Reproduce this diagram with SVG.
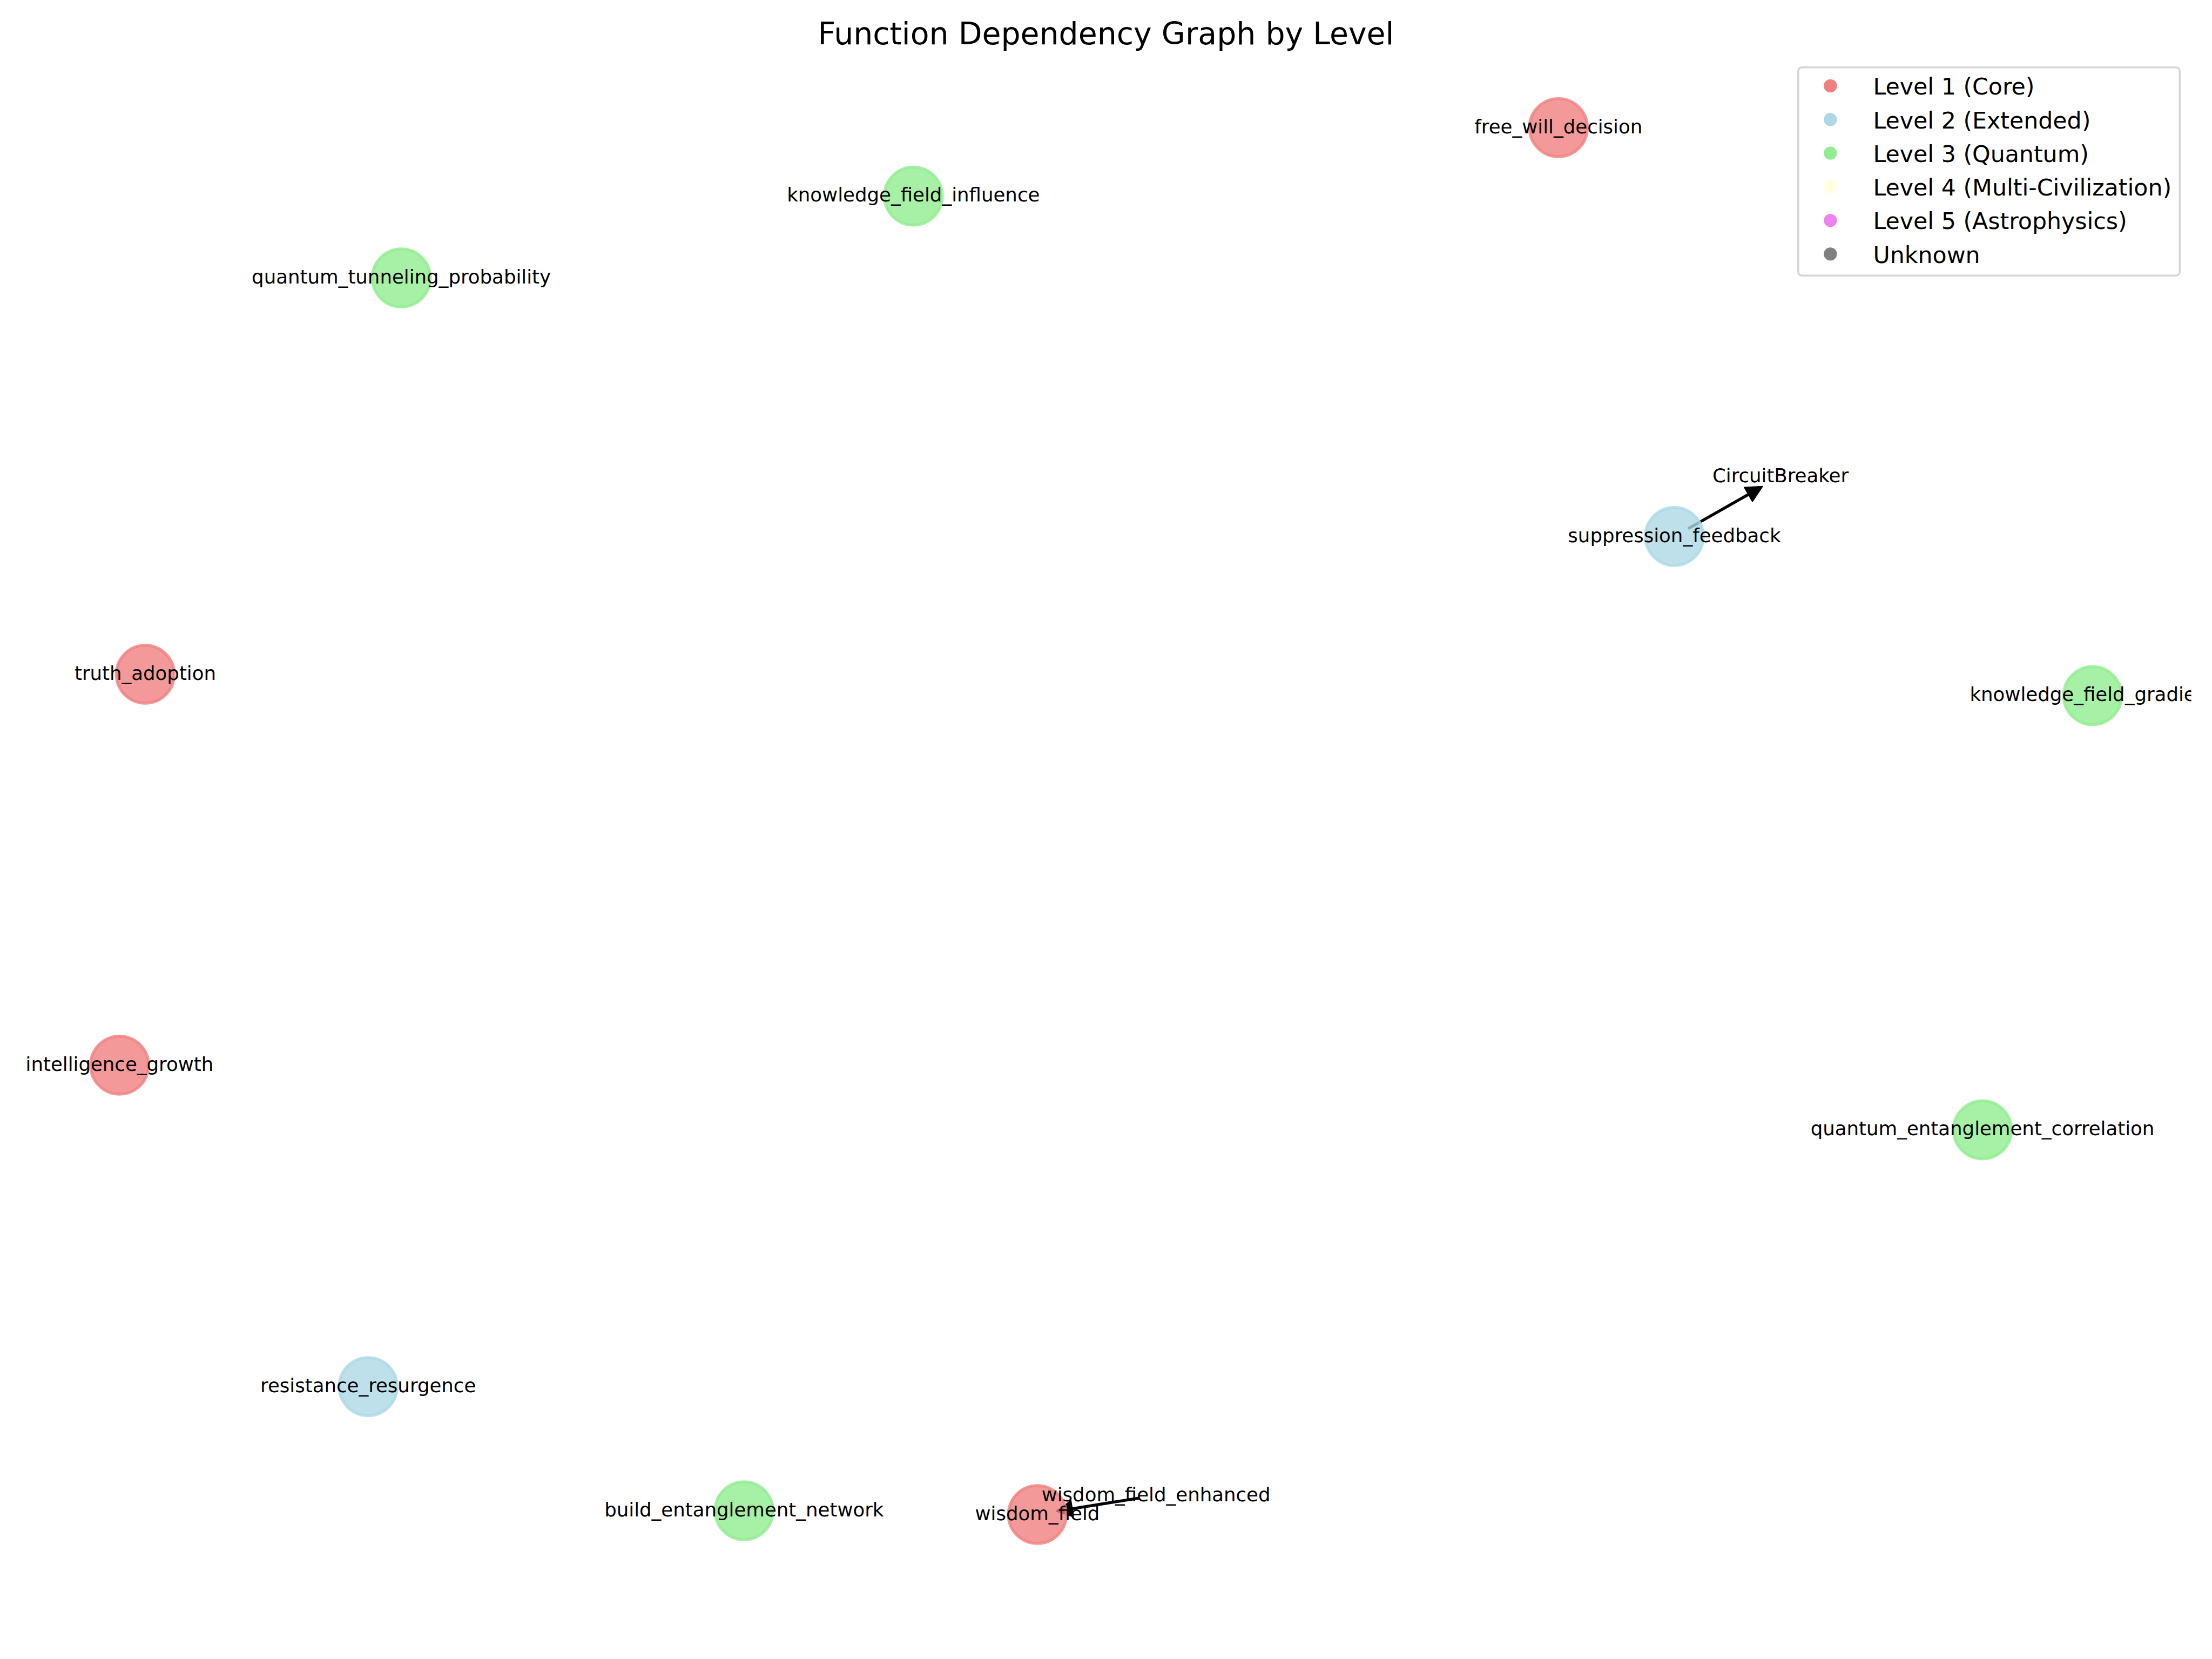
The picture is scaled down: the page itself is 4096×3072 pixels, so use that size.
<svg xmlns="http://www.w3.org/2000/svg" width="4096" height="3072" viewBox="0 0 4096 3072">
<defs>
<style>
.lbl{font-family:"DejaVu Sans","Liberation Sans",sans-serif;font-size:35.56px;fill:#000;text-anchor:middle}
.title{font-family:"DejaVu Sans","Liberation Sans",sans-serif;font-size:56.9px;fill:#000;text-anchor:middle}
.leg{font-family:"DejaVu Sans","Liberation Sans",sans-serif;font-size:42.67px;fill:#000}
.n{stroke-width:5.3;fill-opacity:0.8;stroke-opacity:0.8}
.l1{fill:#f08080;stroke:#f08080}
.l2{fill:#add8e6;stroke:#add8e6}
.l3{fill:#90ee90;stroke:#90ee90}
.edge{stroke:#000;stroke-width:5.4;fill:none;marker-end:url(#ah)}
</style>
<marker id="ah" markerUnits="userSpaceOnUse" markerWidth="40" markerHeight="40" refX="4" refY="15" orient="auto" overflow="visible">
<path d="M0,0 L30,15 L0,30 Z" fill="#000" stroke="#000" stroke-width="2" stroke-linejoin="round"/>
</marker>
<clipPath id="axclip"><rect x="0" y="0" width="4057.6" height="3072"/></clipPath>
</defs>
<rect x="0" y="0" width="4096" height="3072" fill="#ffffff"/>
<text class="title" x="2048" y="82">Function Dependency Graph by Level</text>
<g id="connectors">
<line class="edge" x1="3126.0" y1="979.0" x2="3241.0" y2="913.6"/>
<line class="edge" x1="2110.3" y1="2773.9" x2="1981.5" y2="2794.3"/>
</g>
<g id="node-free_will_decision"><circle class="n l1" cx="2885.8" cy="236.4" r="53.7"/><text class="lbl" x="2885.8" y="246.6">free_will_decision</text></g>
<g id="node-knowledge_field_influence"><circle class="n l3" cx="1691.3" cy="363.1" r="53.7"/><text class="lbl" x="1691.3" y="373.3">knowledge_field_influence</text></g>
<g id="node-quantum_tunneling_probability"><circle class="n l3" cx="743.1" cy="514.6" r="53.7"/><text class="lbl" x="743.1" y="524.8">quantum_tunneling_probability</text></g>
<g id="node-suppression_feedback"><circle class="n l2" cx="3100.4" cy="993.4" r="53.7"/><text class="lbl" x="3100.4" y="1003.6">suppression_feedback</text></g>
<g id="node-CircuitBreaker"><text class="lbl" x="3297.0" y="893.1">CircuitBreaker</text></g>
<g id="node-truth_adoption"><circle class="n l1" cx="269.0" cy="1248.5" r="53.7"/><text class="lbl" x="269.0" y="1258.7">truth_adoption</text></g>
<g id="node-knowledge_field_gradient"><circle class="n l3" cx="3874.9" cy="1288.1" r="53.7"/><text class="lbl" clip-path="url(#axclip)" style="text-anchor:start" x="3647.5" y="1298.3">knowledge_field_gradie</text></g>
<g id="node-intelligence_growth"><circle class="n l1" cx="221.4" cy="1972.4" r="53.7"/><text class="lbl" x="221.4" y="1982.6">intelligence_growth</text></g>
<g id="node-quantum_entanglement_correlation"><circle class="n l3" cx="3671.0" cy="2092.2" r="53.7"/><text class="lbl" x="3671.0" y="2102.4">quantum_entanglement_correlation</text></g>
<g id="node-resistance_resurgence"><circle class="n l2" cx="681.7" cy="2567.6" r="53.7"/><text class="lbl" x="681.7" y="2577.8">resistance_resurgence</text></g>
<g id="node-build_entanglement_network"><circle class="n l3" cx="1377.8" cy="2797.5" r="53.7"/><text class="lbl" x="1377.8" y="2807.7">build_entanglement_network</text></g>
<g id="node-wisdom_field"><circle class="n l1" cx="1920.9" cy="2804.5" r="53.7"/><text class="lbl" x="1920.9" y="2814.7">wisdom_field</text></g>
<g id="node-wisdom_field_enhanced"><text class="lbl" x="2140.6" y="2779.5">wisdom_field_enhanced</text></g>
<g id="legend">
<rect x="3329.8" y="124.6" width="706.5" height="385.7" rx="7" ry="7" fill="#ffffff" fill-opacity="0.8" stroke="#cccccc" stroke-opacity="0.8" stroke-width="3.56"/>
<circle cx="3389.3" cy="159.0" r="12.2" fill="#f08080"/>
<circle cx="3389.3" cy="221.3" r="12.2" fill="#add8e6"/>
<circle cx="3389.3" cy="283.6" r="12.2" fill="#90ee90"/>
<circle cx="3389.3" cy="345.9" r="12.2" fill="#ffffe0"/>
<circle cx="3389.3" cy="408.1" r="12.2" fill="#ee82ee"/>
<circle cx="3389.3" cy="470.4" r="12.2" fill="#808080"/>
<text class="leg" x="3468.6" y="175.2">Level 1 (Core)</text>
<text class="leg" x="3468.6" y="237.5">Level 2 (Extended)</text>
<text class="leg" x="3468.6" y="299.8">Level 3 (Quantum)</text>
<text class="leg" x="3468.6" y="362.1">Level 4 (Multi-Civilization)</text>
<text class="leg" x="3468.6" y="424.4">Level 5 (Astrophysics)</text>
<text class="leg" x="3468.6" y="486.6">Unknown</text>
</g>
</svg>
